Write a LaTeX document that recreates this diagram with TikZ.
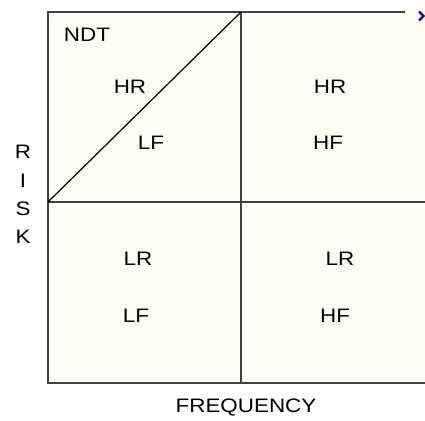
\documentclass[tikz,border=0pt]{standalone}
\usepackage{fontspec}
\setmainfont{Liberation Sans}
\newcommand\widetxt[1]{\scalebox{1.15}[1]{#1}}
\begin{document}
\begin{tikzpicture}[x=1pt,y=-1pt,
  lbl/.style={font=\fontsize{19.5}{20}\selectfont, inner sep=0pt, text=black},
  gridline/.style={draw=black!75, line width=1.4pt}]
\useasboundingbox (0,0) rectangle (425,420);
\fill[white] (0,0) rectangle (425,420);
\fill[yellow!5] (48,12) rectangle (425,383);
% grid
\coordinate (tl) at (48,12);
\coordinate (tm) at (241,12);
\coordinate (tr) at (405,12);
\coordinate (ml) at (48,202);
\coordinate (mr) at (425,202);
\coordinate (bl) at (48,383);
\coordinate (bm) at (241,383);
\coordinate (br) at (425,383);
\draw[gridline] (tr) -- (tl) -- (bl) -- (br);
\draw[gridline] (tm) -- (bm);
\draw[gridline] (ml) -- (mr);
\draw[line width=1.2pt, black] (ml) -- (tm);
% labels
\node[lbl] (ndt) at (87,35) {\widetxt{NDT}};
\node[lbl] (hr1) at (130,87) {\widetxt{HR}};
\node[lbl] (lf1) at (151,143) {\widetxt{LF}};
\node[lbl] (hr2) at (330,87) {\widetxt{HR}};
\node[lbl] (hf2) at (328,143) {\widetxt{HF}};
\node[lbl] (lr3) at (138,259) {\widetxt{LR}};
\node[lbl] (lf3) at (136,316) {\widetxt{LF}};
\node[lbl] (lr4) at (340,259) {\widetxt{LR}};
\node[lbl] (hf4) at (335,316) {\widetxt{HF}};
\node[lbl] (freq) at (246,408) {\widetxt{FREQUENCY}};
\node[lbl] (r) at (23,152) {\widetxt{R}};
\node[lbl] (i) at (23,181) {\widetxt{I}};
\node[lbl] (s) at (23,209) {\widetxt{S}};
\node[lbl] (k) at (23,237) {\widetxt{K}};
% clipped blue mark at the top right
\coordinate (m1) at (419,11.5);
\coordinate (m2) at (423.5,16);
\coordinate (m3) at (419,20.5);
\draw[blue!80!black, line width=2.2pt] (m1) -- (m2) -- (m3);
\end{tikzpicture}
\end{document}
